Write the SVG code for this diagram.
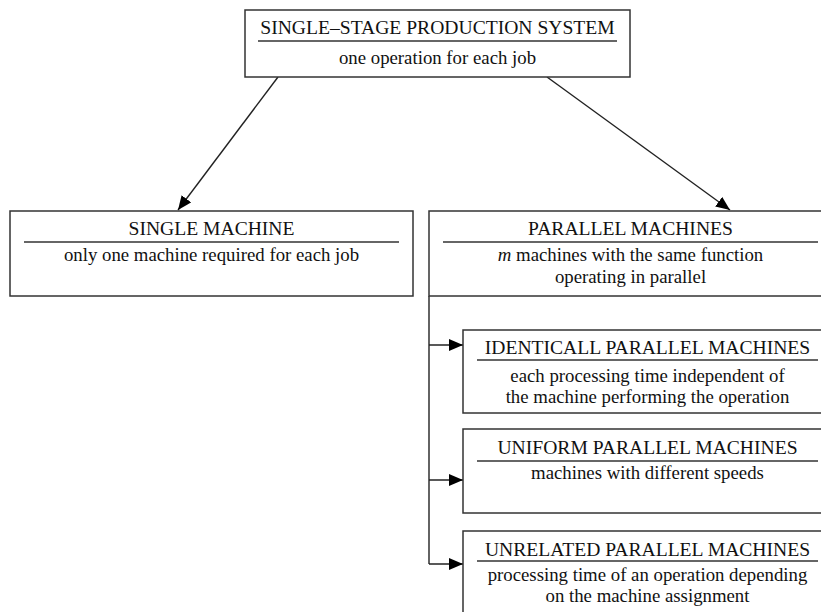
<svg xmlns="http://www.w3.org/2000/svg" width="821" height="612" viewBox="0 0 821 612">
<defs>
<marker id="ah" viewBox="0 0 14 12" refX="14" refY="6" markerWidth="14" markerHeight="12" markerUnits="userSpaceOnUse" orient="auto">
<path d="M0,0 L14,6 L0,12 Z" fill="#000"/>
</marker>
</defs>
<style>
.box{fill:#fff;stroke:#333;stroke-width:1.5}
.ul{stroke:#333;stroke-width:1.5}
.t{font-family:"Liberation Serif","Times New Roman",serif;font-size:19.6px;fill:#111;text-anchor:middle}
.s{font-family:"Liberation Serif","Times New Roman",serif;font-size:18.8px;fill:#111;text-anchor:middle}
.c{fill:none;stroke:#222;stroke-width:1.4}
</style>
<rect width="821" height="612" fill="#fff"/>
<g id="connectors">
<line class="c" x1="278" y1="77" x2="178" y2="210" marker-end="url(#ah)"/>
<line class="c" x1="547" y1="77" x2="730" y2="210" marker-end="url(#ah)"/>
<polyline class="c" points="429,296 429,564"/>
<line class="c" x1="429" y1="345" x2="463" y2="345" marker-end="url(#ah)"/>
<line class="c" x1="429" y1="480" x2="463" y2="480" marker-end="url(#ah)"/>
<line class="c" x1="429" y1="564" x2="463" y2="564" marker-end="url(#ah)"/>
</g>
<g id="n-single-stage">
<rect class="box" x="245" y="10" width="385" height="67"/>
<text class="t" x="437.5" y="34">SINGLE–STAGE PRODUCTION SYSTEM</text>
<line class="ul" x1="258" y1="41" x2="617" y2="41"/>
<text class="s" x="437.5" y="64">one operation for each job</text>
</g>
<g id="n-single-machine">
<rect class="box" x="10" y="211" width="403" height="85"/>
<text class="t" x="211.5" y="235">SINGLE MACHINE</text>
<line class="ul" x1="24" y1="242" x2="399" y2="242"/>
<text class="s" x="211.5" y="261">only one machine required for each job</text>
</g>
<g id="n-parallel">
<rect class="box" x="429" y="211" width="403" height="85"/>
<text class="t" x="630.5" y="235">PARALLEL MACHINES</text>
<line class="ul" x1="443" y1="242" x2="818" y2="242"/>
<text class="s" x="630.5" y="261"><tspan font-style="italic">m</tspan> machines with the same function</text>
<text class="s" x="630.5" y="283">operating in parallel</text>
</g>
<g id="n-identical">
<rect class="box" x="463" y="330" width="369" height="83"/>
<text class="t" x="647.5" y="354">IDENTICALL PARALLEL MACHINES</text>
<line class="ul" x1="477" y1="360" x2="818" y2="360"/>
<text class="s" x="647.5" y="382">each processing time independent of</text>
<text class="s" x="647.5" y="403">the machine performing the operation</text>
</g>
<g id="n-uniform">
<rect class="box" x="463" y="429" width="369" height="84"/>
<text class="t" x="647.5" y="454">UNIFORM PARALLEL MACHINES</text>
<line class="ul" x1="477" y1="461" x2="818" y2="461"/>
<text class="s" x="647.5" y="479">machines with different speeds</text>
</g>
<g id="n-unrelated">
<rect class="box" x="463" y="531" width="369" height="100"/>
<text class="t" x="647.5" y="556">UNRELATED PARALLEL MACHINES</text>
<line class="ul" x1="477" y1="561" x2="818" y2="561"/>
<text class="s" x="647.5" y="581">processing time of an operation depending</text>
<text class="s" x="647.5" y="602">on the machine assignment</text>
</g>
</svg>
